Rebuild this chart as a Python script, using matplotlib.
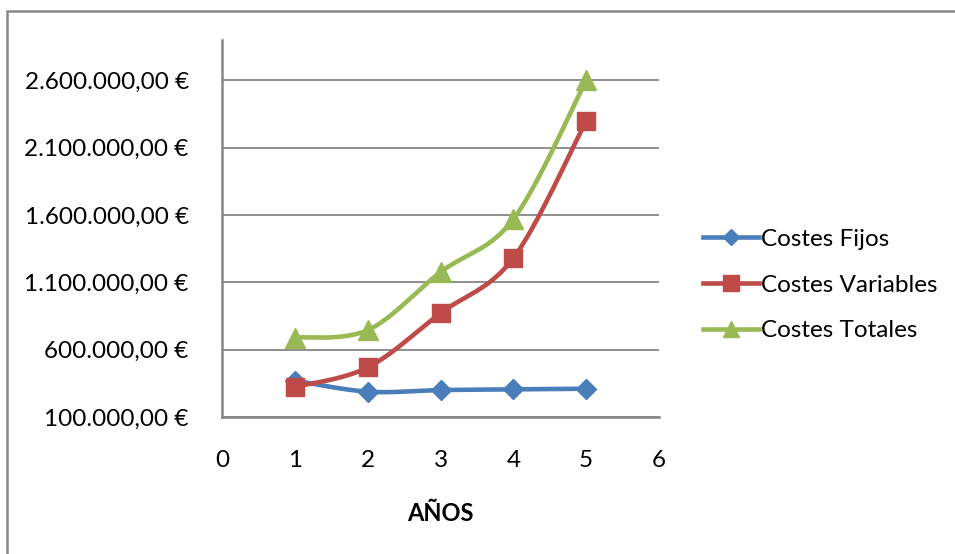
import numpy as np
import matplotlib
matplotlib.use("Agg")
import matplotlib.pyplot as plt
from matplotlib.ticker import FuncFormatter
from matplotlib.patches import Rectangle

# ---- data ----
years = [1, 2, 3, 4, 5]
costes_fijos = [370000, 288000, 300000, 305000, 310000]
costes_variables = [323000, 468000, 871000, 1280000, 2300000]
costes_totales = [690000, 745000, 1176000, 1569000, 2600000]
series_names = ["Costes Fijos", "Costes Variables", "Costes Totales"]
y_ticks = [100000, 600000, 1100000, 1600000, 2100000, 2600000]
x_ticks = [0, 1, 2, 3, 4, 5, 6]

colors = ["#4A7EBB", "#BE4B48", "#98B954"]
markers = ["D", "s", "^"]
msizes = [10, 13.5, 14]

W, H = 955, 554
fig = plt.figure(figsize=(W / 100, H / 100), dpi=100)
plt.rcParams['font.family'] = ['Lato', 'DejaVu Sans']
FS = 17.5

# outer frame
fig.patches.append(Rectangle((7 / W, -0.1), 1.2, (1 - 11 / H) + 0.1, transform=fig.transFigure,
                             fill=False, edgecolor="#878787", linewidth=1.8, zorder=0))

ax = fig.add_axes([222 / W, 1 - 417 / H, (659 - 222) / W, (417 - 40) / H])
xmin, xmax = 0, 6
ymin, ymax = 100000, 2900000
ax.set_xlim(xmin, xmax)
ax.set_ylim(ymin, ymax)

axw = (659 - 222)
axh = (417 - 40)


def smooth(xs, ys, n=40):
    # Bezier smoothing (Excel-like) computed in screen proportions
    px = (np.array(xs, float) - xmin) / (xmax - xmin) * axw
    py = (np.array(ys, float) - ymin) / (ymax - ymin) * axh
    P = np.column_stack([px, py])
    Pe = np.vstack([P[0], P, P[-1]])
    out = []
    for i in range(len(P) - 1):
        p0, p1, p2, p3 = Pe[i], Pe[i + 1], Pe[i + 2], Pe[i + 3]
        c1 = p1 + (p2 - p0) / 6
        c2 = p2 - (p3 - p1) / 6
        t = np.linspace(0, 1, n)[:, None]
        seg = (1 - t) ** 3 * p1 + 3 * (1 - t) ** 2 * t * c1 + 3 * (1 - t) * t ** 2 * c2 + t ** 3 * p2
        out.append(seg if i == 0 else seg[1:])
    out = np.vstack(out)
    sx = out[:, 0] / axw * (xmax - xmin) + xmin
    sy = out[:, 1] / axh * (ymax - ymin) + ymin
    return sx, sy


all_series = [costes_fijos, costes_variables, costes_totales]
handles = []
for vals, name, c, m, ms in zip(all_series, series_names, colors, markers, msizes):
    sx, sy = smooth(years, vals)
    ax.plot(sx, sy, color=c, lw=3.3, solid_capstyle="round", zorder=3)
    ax.plot(years, vals, linestyle="none", marker=m, markersize=ms, color=c,
            markeredgecolor=c, zorder=4)
    h, = ax.plot([], [], color=c, lw=3.3, marker=m, markersize=ms * 0.85,
                 markeredgecolor=c, label=name)
    handles.append(h)

ax.set_yticks(y_ticks)
ax.set_xticks(x_ticks)
ax.yaxis.set_major_formatter(FuncFormatter(
    lambda v, p: "{:,.2f}".format(v).replace(",", "X").replace(".", ",").replace("X", ".") + " €"))
ax.grid(axis="y", color="#868686", lw=1.3, zorder=1)
ax.set_axisbelow(True)
for s in ["top", "right"]:
    ax.spines[s].set_visible(False)
for s in ["left", "bottom"]:
    ax.spines[s].set_color("#868686")
    ax.spines[s].set_linewidth(1.8)
ax.tick_params(axis="both", length=0, labelsize=FS, colors="black")
ax.tick_params(axis="y", pad=24)
ax.tick_params(axis="x", pad=24)
ax.set_xlabel("AÑOS", fontsize=FS - 0.5, fontweight="bold", labelpad=22)

leg = fig.legend(handles=handles, loc="center left", bbox_to_anchor=(703 / W, 1 - 285 / H),
                 frameon=False, fontsize=FS, handlelength=2.3, handletextpad=0.1,
                 labelspacing=1.02, borderaxespad=0, borderpad=0)

fig.savefig("out.png", dpi=100)
